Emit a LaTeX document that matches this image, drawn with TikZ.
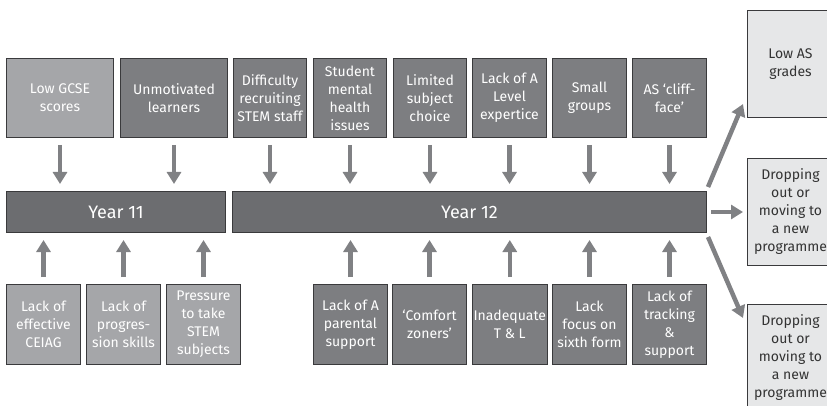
\documentclass[tikz,border=0pt]{standalone}
\usepackage{fontspec}
\setmainfont{Fira Sans}
\usetikzlibrary{arrows.meta}
\definecolor{boxlight}{HTML}{A5A6A9}
\definecolor{boxdark}{HTML}{7D7E81}
\definecolor{barfill}{HTML}{6C6D70}
\definecolor{outfill}{HTML}{E6E7E8}
\definecolor{edge}{HTML}{3A3A3C}
\definecolor{arrowgray}{HTML}{808184}
\definecolor{outtext}{HTML}{333333}
\begin{document}
\begin{tikzpicture}[x=1pt,y=-1pt,
  base/.style={draw=edge, line width=1pt, anchor=north west, inner sep=1pt,
    align=center, text=white, font=\fontsize{14}{18}\selectfont},
  lightbox/.style={base, fill=boxlight},
  darkbox/.style={base, fill=boxdark},
  yearbar/.style={base, fill=barfill, font=\fontsize{18}{20}\selectfont},
  outbox/.style={base, fill=outfill, text=outtext},
  arr/.style={draw=arrowgray, line width=4.5pt,
    -{Triangle[width=14pt,length=12pt]}}
]
\useasboundingbox (0,0) rectangle (827,406);
\clip (0,0) rectangle (827,406);

% causes feeding in from above
\node[lightbox, minimum width=107pt, minimum height=79pt] (t1) at (6,58) {Low GCSE\\scores};
\node[darkbox, minimum width=107pt, minimum height=79pt] (t2) at (120,58) {Unmotivated\\learners};
\node[darkbox, minimum width=73pt, minimum height=79pt] (t3) at (233,58) {Difficulty\\recruiting\\STEM staff};
\node[darkbox, minimum width=73pt, minimum height=79pt] (t4) at (313,58) {Student\\mental\\health\\issues};
\node[darkbox, minimum width=73pt, minimum height=79pt] (t5) at (393,58) {Limited\\subject\\choice};
\node[darkbox, minimum width=74pt, minimum height=79pt] (t6) at (472,58) {Lack of A\\Level\\expertice};
\node[darkbox, minimum width=74pt, minimum height=79pt] (t7) at (552,58) {Small\\groups};
\node[darkbox, minimum width=74pt, minimum height=79pt] (t8) at (632,58) {AS ‘cliff-\\face’};

% the two years
\node[yearbar, minimum width=219pt, minimum height=41pt] (y11) at (6,191) {Year 11};
\node[yearbar, minimum width=474pt, minimum height=41pt] (y12) at (232,191) {Year 12};

% causes feeding in from below
\node[lightbox, minimum width=74pt, minimum height=80pt] (b1) at (6,284) {Lack of\\effective\\CEIAG};
\node[lightbox, minimum width=74pt, minimum height=80pt] (b2) at (86,284) {Lack of\\progres-\\sion skills};
\node[lightbox, minimum width=74pt, minimum height=80pt] (b3) at (166,284) {Pressure\\to take\\STEM\\subjects};
\node[darkbox, minimum width=74pt, minimum height=80pt] (b4) at (313,284) {Lack of A\\parental\\support};
\node[darkbox, minimum width=74pt, minimum height=80pt] (b5) at (392,284) {‘Comfort\\zoners’};
\node[darkbox, minimum width=74pt, minimum height=80pt] (b6) at (472,284) {Inadequate\\T \& L};
\node[darkbox, minimum width=74pt, minimum height=80pt] (b7) at (552,284) {Lack\\focus on\\sixth form};
\node[darkbox, minimum width=74pt, minimum height=80pt] (b8) at (632,284) {Lack of\\tracking\\\&\\support};

% outcomes
\node[outbox, minimum width=86pt, minimum height=107pt] (r1) at (747,10) {Low AS\\grades};
\node[outbox, minimum width=86pt, minimum height=107pt] (r2) at (747,158) {Dropping\\out or\\moving to\\a new\\programme};
\node[outbox, minimum width=86pt, minimum height=107pt] (r3) at (747,304) {Dropping\\out or\\moving to\\a new\\programme};

% arrows into the year bars
\foreach \t/\y in {t1/y11, t2/y11, t3/y12, t4/y12, t5/y12, t6/y12, t7/y12, t8/y12}
  \draw[arr] ([shift={(0,7)}]\t.south) -- ([shift={(0,-7)}]\t.south |- \y.north);
\foreach \b/\y in {b1/y11, b2/y11, b3/y11, b4/y12, b5/y12, b6/y12, b7/y12, b8/y12}
  \draw[arr] ([shift={(0,-7)}]\b.north) -- ([shift={(0,7)}]\b.north |- \y.south);

% arrows out to the outcomes
\draw[arr] ([shift={(1,-4)}]y12.north east) -- ([shift={(-4,-14)}]r1.south west);
\draw[arr] ([shift={(4,0)}]y12.east) -- ([shift={(-4,0)}]r2.west |- y12.east);
\draw[arr] ([shift={(1,4)}]y12.south east) -- ([shift={(-4,14)}]r3.north west);
\end{tikzpicture}
\end{document}
